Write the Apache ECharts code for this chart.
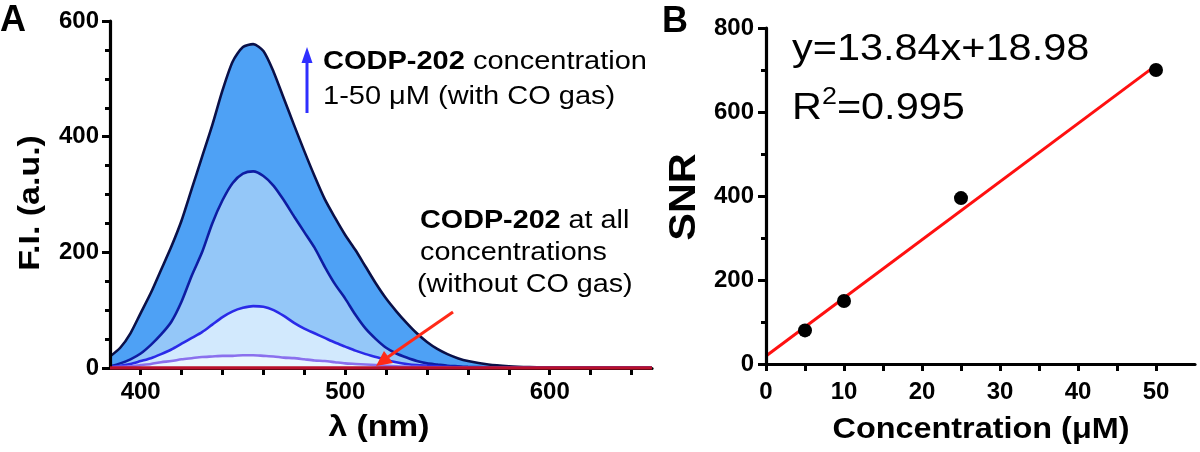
<!DOCTYPE html>
<html><head><meta charset="utf-8">
<script src="https://cdn.jsdelivr.net/npm/echarts@6/dist/echarts.min.js"></script>
<style>html,body{margin:0;padding:0;background:#fff}#c{width:1200px;height:452px}</style>
</head><body><div id="c"></div>
<script>
// ---- Panel A data: fluorescence spectra (F.I., a.u.) vs wavelength (nm)
const wavelengths = [385,390,395,400,405,410,415,420,425,430,435,440,445,450,455,460,465,470,475,480,485,490,495,500,505,510,515,520,525,530,535,540,545,550,555,560,570,580,590,600,620,650];
const fi50uM = [20,35,60,95,130,170,210,255,310,365,420,480,530,555,560,548,512,466,420,375,332,292,260,230,204,175,146,120,98,78,60,45,33,24,17,12,6,3,1.5,1,0.5,0.3];
const fi25uM = [3,8,15,25,40,58,80,115,160,200,250,290,320,336,340,332,315,290,262,235,208,175,145,120,92,68,50,35,25,18,12,8,6,4,3,2,1.2,0.8,0.6,0.4,0.3,0.2];
const fi10uM = [2,4,7,12,17,24,32,42,52,62,75,88,98,104,107,106,100,90,78,68,60,52,44,37,30,24,19,14,10,7,5,4,3,2,1.5,1,0.6,0.4,0.3,0.3,0.2,0.1];
const fi5uM  = [1,2,3,5,7,10,12,15,17,19,20,21,21,22,22,21,20,18,17,15,13,12,10,8,7,6,5,4,3,2.5,2,1.5,1.2,1,0.8,0.6,0.4,0.3,0.2,0.2,0.1,0.1];
const noCoWavelengths = [385, 650];
const noCoFI = [0, 0];
const aTickLabelsX = [400, 500, 600];
const aTicksX = [400, 420, 440, 460, 480, 500, 520, 540, 560, 580, 600, 620, 640];

// ---- Panel B data: SNR vs concentration (uM)
const concentrations = [5, 10, 25, 50];
const snr = [80, 150, 395, 700];
const fitSlope = 13.84;
const fitIntercept = 18.98;
const fitRange = [0, 50];
const bTickLabelsX = [0, 10, 20, 30, 40, 50];
const bTicksX = [0, 5, 10, 15, 20, 25, 30, 35, 40, 45, 50];

const FONT = 'Arial, "Liberation Sans", sans-serif';
const zip = (xs, ys) => xs.map((x, i) => [x, ys[i]]);

const chart = echarts.init(document.getElementById('c'), null, {renderer: 'canvas'});

function tickLabel(margin, extra) {
  return Object.assign({color: '#000', fontFamily: FONT, fontWeight: 'bold', fontSize: 24, margin: margin}, extra || {});
}
function axLine() { return {show: true, onZero: false, lineStyle: {color: '#000', width: 3.2}}; }
function ticks(len, custom) {
  const t = {show: true, length: len, lineStyle: {color: '#000', width: 3}};
  if (custom) t.customValues = custom;
  return t;
}

function areaSeries(name, data, fill, stroke) {
  return {
    name, type: 'line', xAxisIndex: 0, yAxisIndex: 0,
    data: zip(wavelengths, data), showSymbol: false, smooth: 0.25,
    lineStyle: {color: stroke, width: 2.6},
    areaStyle: {color: fill, opacity: 1},
    itemStyle: {color: stroke}, silent: true, z: 2
  };
}

function txt(x, y, text, font, opts) {
  return Object.assign({type: 'text', x: x, y: y, z: 100,
    style: Object.assign({text: text, font: font + ' ' + FONT, fill: '#000', align: 'left', verticalAlign: 'middle'}, (opts && opts.style) || {})},
    (opts && opts.el) || {});
}

const option = {
  animation: false,
  grid: [
    {left: 110, top: 21, width: 542, height: 347},
    {left: 766, top: 28, width: 429, height: 336}
  ],
  xAxis: [
    {gridIndex: 0, type: 'value', min: 385, max: 650, zlevel: 1, axisLine: axLine(),
     axisTick: ticks(7, aTicksX),
     axisLabel: tickLabel(12, {customValues: aTickLabelsX}),
     splitLine: {show: false}},
    {gridIndex: 1, type: 'value', min: 0, max: 55, zlevel: 1, axisLine: axLine(),
     axisTick: ticks(7, bTicksX),
     axisLabel: tickLabel(16, {customValues: bTickLabelsX}),
     splitLine: {show: false}}
  ],
  yAxis: [
    {gridIndex: 0, type: 'value', min: 0, max: 600, interval: 200, zlevel: 1, axisLine: axLine(),
     axisTick: ticks(8),
     minorTick: {show: true, splitNumber: 4, length: 5, lineStyle: {color: '#000', width: 3}},
     axisLabel: tickLabel(11), splitLine: {show: false}},
    {gridIndex: 1, type: 'value', min: 0, max: 800, interval: 200, zlevel: 1, axisLine: axLine(),
     axisTick: ticks(8),
     minorTick: {show: true, splitNumber: 2, length: 5, lineStyle: {color: '#000', width: 3}},
     axisLabel: tickLabel(12), splitLine: {show: false}}
  ],
  series: [
    areaSeries('50 μM', fi50uM, '#4ea1f5', '#0a1048'),
    areaSeries('25 μM', fi25uM, '#94c7f8', '#0e1ca2'),
    areaSeries('10 μM', fi10uM, '#d2e9fd', '#2a2ae8'),
    areaSeries('5 μM', fi5uM, '#e9f6ff', '#8a70ee'),
    {name: 'without CO', type: 'line', xAxisIndex: 0, yAxisIndex: 0, zlevel: 2,
     data: zip(noCoWavelengths, noCoFI), showSymbol: false,
     lineStyle: {color: '#b8102c', width: 3.5}, silent: true, z: 12},
    {name: 'fit', type: 'line', xAxisIndex: 1, yAxisIndex: 1,
     data: fitRange.map(x => [x, fitSlope * x + fitIntercept]), showSymbol: false,
     lineStyle: {color: '#ff1010', width: 3}, silent: true, z: 3},
    {name: 'SNR', type: 'scatter', xAxisIndex: 1, yAxisIndex: 1,
     data: zip(concentrations, snr), symbol: 'circle', symbolSize: 14,
     itemStyle: {color: '#000', opacity: 1}, silent: true, z: 4}
  ],
  graphic: {elements: [
    txt(0, 21, 'A', 'bold 36px'),
    txt(662, 22, 'B', 'bold 36px'),
    txt(31, 203, 'F.I. (a.u.)', 'bold 29px', {style: {align: 'center'}, el: {rotation: Math.PI / 2, scaleX: 1.17}}),
    txt(379, 428, 'λ (nm)', 'bold 30px', {style: {align: 'center'}, el: {scaleX: 1.12}}),
    txt(685, 197, 'SNR', 'bold 36px', {style: {align: 'center'}, el: {rotation: Math.PI / 2, scaleX: 1.15}}),
    txt(981, 430, 'Concentration (μM)', 'bold 30px', {style: {align: 'center'}, el: {scaleX: 1.08}}),
    txt(792, 50, 'y=13.84x+18.98', '37px', {el: {scaleX: 1.12}}),
    txt(792, 106, '{r|R}{s|2}{r|=0.995}', '37px', {el: {scaleX: 1.12}, style: {rich: {
      r: {fontSize: 37, fontFamily: FONT, verticalAlign: 'bottom', lineHeight: 42},
      s: {fontSize: 24, fontFamily: FONT, verticalAlign: 'top', lineHeight: 42}}}}),
    txt(323, 62, '{b|CODP-202} concentration', '25px', {el: {scaleX: 1.16}, style: {rich: {b: {fontWeight: 'bold', fontSize: 25, fontFamily: FONT}}}}),
    txt(323, 97, '1-50 μM (with CO gas)', '25px', {el: {scaleX: 1.16}}),
    txt(420, 221, '{b|CODP-202} at all', '25px', {el: {scaleX: 1.15}, style: {rich: {b: {fontWeight: 'bold', fontSize: 25, fontFamily: FONT}}}}),
    txt(420, 253, 'concentrations', '25px', {el: {scaleX: 1.15}}),
    txt(417, 285, '(without CO gas)', '25px', {el: {scaleX: 1.15}}),
    // blue arrow
    {type: 'line', z: 100, shape: {x1: 307, y1: 113, x2: 307, y2: 60}, style: {stroke: '#2f2fff', lineWidth: 3}},
    {type: 'polygon', z: 100, shape: {points: [[307, 47], [301.5, 63], [312.5, 63]]}, style: {fill: '#2f2fff'}},
    // red arrow
    {type: 'line', z: 100, zlevel: 3, shape: {x1: 453, y1: 312, x2: 388, y2: 357}, style: {stroke: '#ff2a18', lineWidth: 3}},
    {type: 'polygon', z: 100, zlevel: 3, shape: {points: [[376, 366], [384, 351], [393, 363]]}, style: {fill: '#ff2a18'}}
  ]}
};
chart.setOption(option);
</script></body></html>
